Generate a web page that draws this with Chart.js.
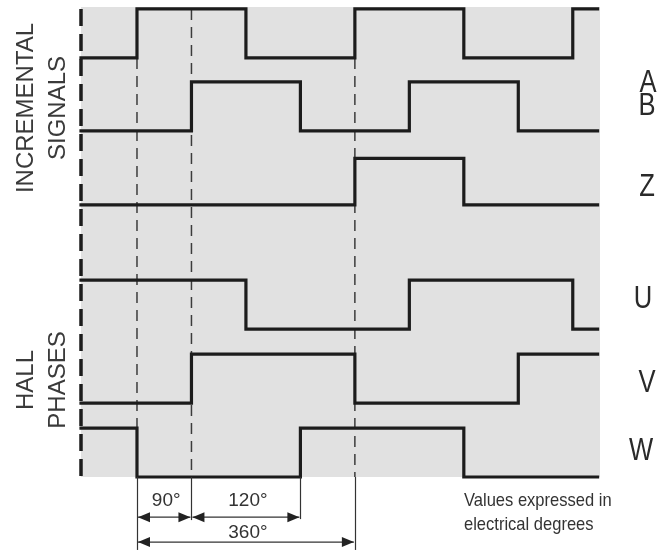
<!DOCTYPE html>
<html>
<head>
<meta charset="utf-8">
<script src="https://cdn.jsdelivr.net/npm/chart.js@4.4.0/dist/chart.umd.min.js"></script>
<style>
html,body{margin:0;padding:0;background:#ffffff;}
#wrap{width:670px;height:552px;position:relative;}
</style>
</head>
<body>
<div id="wrap"><canvas id="c" width="670" height="552"></canvas></div>
<script>
// ---------- DATA (electrical degrees) ----------
const signalNames   = ['A', 'B', 'Z', 'U', 'V', 'W'];
const signalOffsets = [8.56, 7.07, 5.56, 3.02, 1.51, 0];   // rest level of each trace
const edgesA  = [-92.5, 0, 180, 360, 540, 720, 761];
const levelsA = [0, 1, 0, 1, 0, 1];
const edgesB  = [-92.5, 90, 270, 450, 630, 761];
const levelsB = [0, 1, 0, 1, 0];
const edgesZ  = [-92.5, 360, 540, 761];
const levelsZ = [0, 0.95, 0];
const edgesU  = [-92.5, 180, 450, 720, 761];
const levelsU = [1, 0, 1, 0];
const edgesV  = [-92.5, 90, 360, 630, 761];
const levelsV = [0, 1, 0, 1];
const edgesW  = [-92.5, 0, 270, 540, 761];
const levelsW = [1, 0, 1, 0];

const guideAngles = [0, 90, 360];          // dashed reference lines
const guideTops   = [8.56, 9.56, 8.56];
const extAngles   = [0, 90, 270, 360];     // extension lines below the traces
const extBottoms  = [-1.49, -0.88, -0.86, -1.49];
const dimFrom     = [0, 90, 0];
const dimTo       = [90, 270, 360];
const dimLabels   = ['90°', '120°', '360°'];
const groupLabels = [['INCREMENTAL', 'SIGNALS'], ['HALL', 'PHASES']];
const noteLines   = ['Values expressed in', 'electrical degrees'];

const allEdges  = [edgesA, edgesB, edgesZ, edgesU, edgesV, edgesW];
const allLevels = [levelsA, levelsB, levelsZ, levelsU, levelsV, levelsW];

// ---------- DATASETS ----------
const datasets = [];
signalNames.forEach((name, i) => {
  const e = allEdges[i], l = allLevels[i], off = signalOffsets[i];
  const pts = [];
  for (let k = 0; k < l.length; k++) pts.push({x: e[k], y: off + l[k]});
  pts.push({x: e[e.length - 1], y: off + l[l.length - 1]});
  datasets.push({
    label: name, data: pts, stepped: 'before',
    borderColor: '#1c1c1c', borderWidth: 3.2, pointRadius: 0,
    fill: false, clip: false, order: 0, borderJoinStyle: 'miter', borderCapStyle: 'square'
  });
});
guideAngles.forEach((a, i) => {
  datasets.push({
    label: 'guide' + a, data: [{x: a, y: guideTops[i]}, {x: a, y: 0}],
    borderColor: '#3c3c3c', borderWidth: 1.5, borderDash: [11, 7],
    pointRadius: 0, fill: false, clip: false, order: 2
  });
});
// thick dashed start line
datasets.push({
  label: 'start', data: [{x: edgesA[0], y: signalOffsets[0] + 1}, {x: edgesA[0], y: 0}],
  borderColor: '#1c1c1c', borderWidth: 3.5, borderDash: [17, 8],
  pointRadius: 0, fill: false, clip: false, order: 1
});

// ---------- PLUGINS ----------
function drawText(ctx, t, x, y, size, sx, rot, align, color) {
  ctx.save();
  ctx.translate(x, y);
  if (rot) ctx.rotate(rot);
  ctx.scale(sx, 1);
  ctx.font = size + 'px "Liberation Sans", Arial, sans-serif';
  ctx.fillStyle = color || '#333333';
  ctx.textAlign = align || 'center';
  ctx.textBaseline = 'alphabetic';
  ctx.fillText(t, 0, size * 0.358);
  ctx.restore();
}

const bgPlugin = {
  id: 'bg',
  beforeDatasetsDraw(chart) {
    const {ctx, chartArea: a} = chart;
    ctx.save();
    ctx.fillStyle = '#e1e1e1';
    ctx.fillRect(a.left, a.top, a.right - a.left, a.bottom - a.top);
    ctx.restore();
  }
};

function arrowHead(ctx, x, y, dir) {
  const L = 12, H = 5;
  ctx.beginPath();
  ctx.moveTo(x, y);
  ctx.lineTo(x - dir * L, y - H);
  ctx.lineTo(x - dir * L, y + H);
  ctx.closePath();
  ctx.fill();
}

const annoPlugin = {
  id: 'anno',
  afterDatasetsDraw(chart) {
    const ctx = chart.ctx;
    const xs = chart.scales.x, ys = chart.scales.y;
    ctx.save();
    ctx.strokeStyle = '#333333';
    ctx.fillStyle = '#222222';
    ctx.lineWidth = 1.2;
    extAngles.forEach((a, i) => {
      const px = Math.round(xs.getPixelForValue(a)) + 0.5;
      ctx.beginPath();
      ctx.moveTo(px, ys.getPixelForValue(0));
      ctx.lineTo(px, ys.getPixelForValue(extBottoms[i]));
      ctx.stroke();
    });
    const arrowRows = [-0.82, -0.82, -1.33];
    const labelRows = [-0.45, -0.45, -1.10];
    dimFrom.forEach((f, i) => {
      const x1 = xs.getPixelForValue(f) + 1, x2 = xs.getPixelForValue(dimTo[i]) - 1;
      const y = ys.getPixelForValue(arrowRows[i]);
      ctx.beginPath();
      ctx.moveTo(x1, y); ctx.lineTo(x2, y); ctx.stroke();
      arrowHead(ctx, x1, y, -1);
      arrowHead(ctx, x2, y, 1);
      drawText(ctx, dimLabels[i], (x1 + x2) / 2 + 2, ys.getPixelForValue(labelRows[i]), 19, 1, 0, 'center', '#333333');
    });
    ctx.restore();

    // right-hand signal letters
    const letterPos = [[648, 81], [647, 104], [647, 185], [643, 297], [647, 381], [641, 449]];
    signalNames.forEach((n, i) => {
      drawText(ctx, n, letterPos[i][0], letterPos[i][1], 32, 0.8, 0, 'center', '#2a2a2a');
    });
    // group labels (rotated)
    const groupPos = [[[24, 108], [56, 108]], [[24.5, 380], [56, 380]]];
    groupLabels.forEach((g, gi) => {
      g.forEach((t, ti) => {
        drawText(ctx, t, groupPos[gi][ti][0], groupPos[gi][ti][1], 24, 1, -Math.PI / 2, 'center', '#3a3a3a');
      });
    });
    // note
    drawText(ctx, noteLines[0], 464, 499, 19, 0.87, 0, 'left', '#333333');
    drawText(ctx, noteLines[1], 464, 523, 19, 0.87, 0, 'left', '#333333');
  }
};

new Chart(document.getElementById('c'), {
  type: 'line',
  data: {datasets},
  options: {
    responsive: false,
    animation: false,
    layout: {padding: {left: 81, right: 70, top: 7, bottom: 75}},
    plugins: {legend: {display: false}, tooltip: {enabled: false}, title: {display: false}},
    scales: {
      x: {type: 'linear', min: -92.5, max: 765, display: false},
      y: {type: 'linear', min: 0, max: 9.6, display: false}
    },
    elements: {line: {tension: 0}}
  },
  plugins: [bgPlugin, annoPlugin]
});
</script>
</body>
</html>
